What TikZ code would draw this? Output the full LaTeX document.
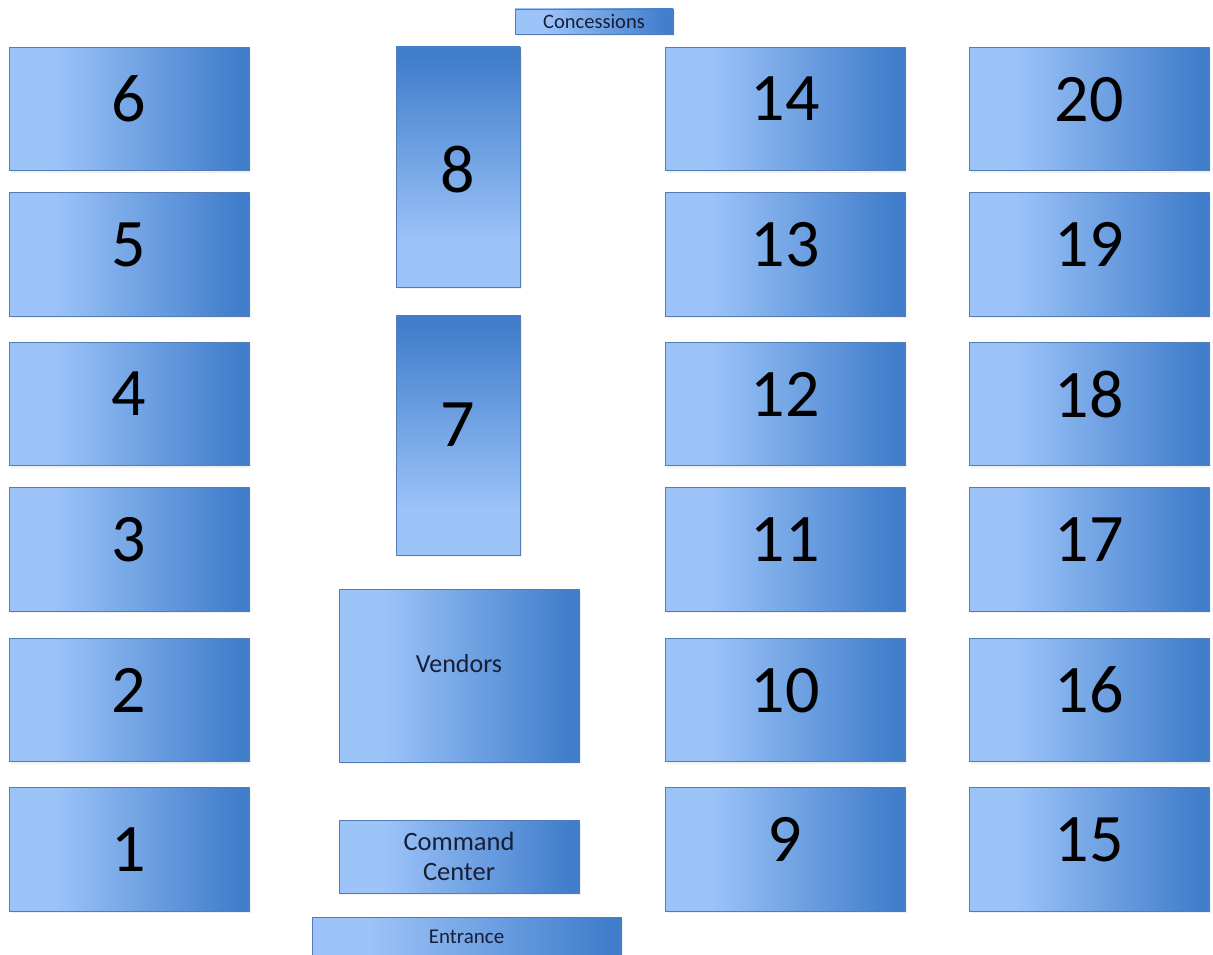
\documentclass[tikz,border=0pt]{standalone}
\usepackage{fontspec}
\setmainfont{Carlito}
\usetikzlibrary{positioning, shadows}

\definecolor{boothlight}{RGB}{157,196,249}
\definecolor{boothdark}{RGB}{64,125,203}
\definecolor{boothedge}{RGB}{84,124,182}
\definecolor{signtext}{RGB}{22,30,56}
\pgfdeclarehorizontalshading{boothshade}{100bp}{color(0bp)=(boothlight); color(34bp)=(boothlight); color(73bp)=(boothdark); color(100bp)=(boothdark)}

\begin{document}
\begin{tikzpicture}[
        x=1pt, y=-1pt,
        node distance=24pt and 64pt,
        area/.style={rectangle, draw=boothedge, line width=0.8pt, outer sep=0pt, shading=boothshade, inner sep=0pt, align=center, drop shadow={shadow xshift=1.5pt, shadow yshift=-2pt, opacity=0.12}},
        booth/.style={area, minimum width=240pt, minimum height=123.5pt, font=\fontsize{68}{68}\selectfont, text depth=20pt},
        tallbooth/.style={booth, minimum width=124pt, minimum height=240pt, shading angle=90},
        sign/.style={area, text=signtext}
    ]
        \useasboundingbox (0,0) rectangle (1213,955);

        % --- LEFT ROW ---
        \node[booth, text depth=0pt] (b1) at (129,849.5) {1};
        \node[booth, above=26pt of b1] (b2) {2};
        \node[booth, above=27pt of b2] (b3) {3};
        \node[booth, above=22pt of b3] (b4) {4};
        \node[booth, above=26pt of b4] (b5) {5};
        \node[booth, above=22pt of b5] (b6) {6};

        % --- CENTER AISLE ---
        \node[tallbooth, text height=51pt, text depth=0pt] (b8) at (458,167) {8};
        \node[tallbooth, below=28pt of b8] (b7) {7};
        \node[sign, minimum width=158pt, minimum height=25pt, font=\fontsize{20.5}{20.5}\selectfont] (concessions) at (594,21.5) {Concessions};
        \node[sign, minimum width=240pt, minimum height=173pt, font=\fontsize{26}{26}\selectfont, text depth=25pt] (vendors) at (459,675.5) {Vendors};
        \node[sign, below=58pt of vendors, minimum width=240pt, minimum height=73pt, font=\fontsize{26.5}{30}\selectfont, text depth=0pt] (command) {Command\\Center};
        \node[sign, minimum width=309pt, minimum height=46pt, font=\fontsize{21}{21}\selectfont, text depth=6pt] (entrance) at (466.5,940) {Entrance};

        % --- RIGHT ROWS ---
        \node[booth, right=416pt of b1] (b9) {9};
        \node[booth, right=416pt of b2] (b10) {10};
        \node[booth, right=416pt of b3] (b11) {11};
        \node[booth, right=416pt of b4] (b12) {12};
        \node[booth, right=416pt of b5] (b13) {13};
        \node[booth, right=416pt of b6] (b14) {14};

        \node[booth, right=of b9] (b15) {15};
        \node[booth, right=of b10] (b16) {16};
        \node[booth, right=of b11] (b17) {17};
        \node[booth, right=of b12] (b18) {18};
        \node[booth, right=of b13] (b19) {19};
        \node[booth, right=of b14] (b20) {20};

    \end{tikzpicture}
\end{document}
